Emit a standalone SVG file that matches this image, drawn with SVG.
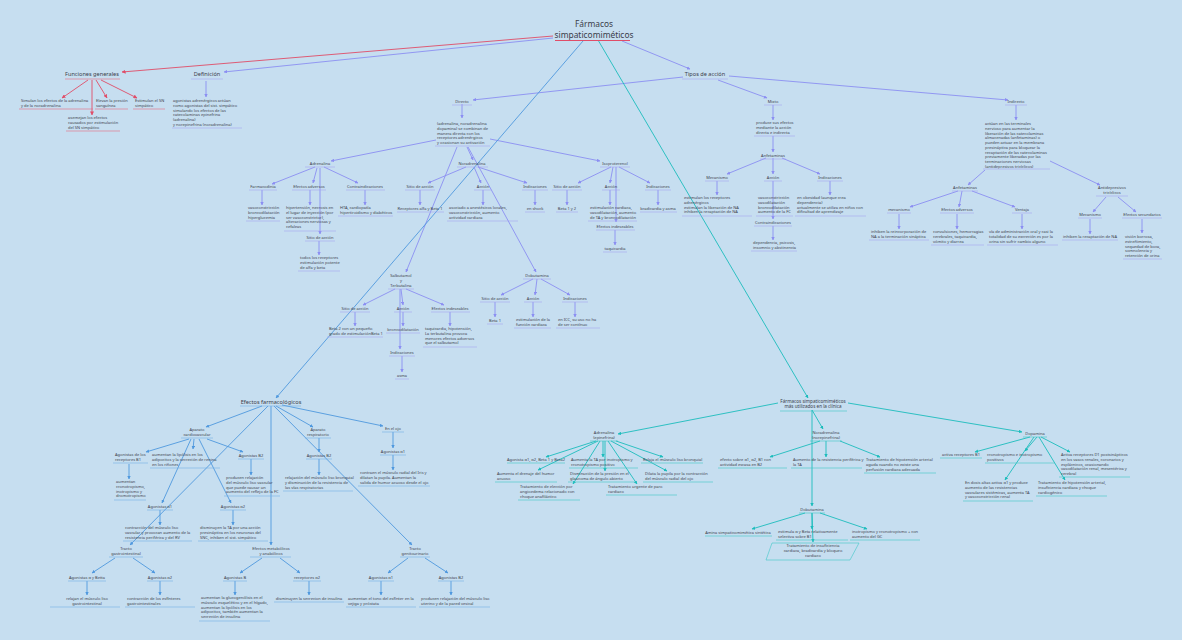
<svg xmlns="http://www.w3.org/2000/svg" width="1182" height="640" viewBox="0 0 1182 640">
<defs>
<style>
text{font-family:"Noto Sans","Liberation Sans",sans-serif;fill:#3b3d4a}
.s{font-size:4px}
.h{font-size:5.6px}
.t{font-size:8.4px}
.c{text-anchor:middle}
.ur,.up,.ub,.ut{stroke-width:.6;fill:none}
.ur{stroke:#e56a82}.up{stroke:#a4a6f2}.ub{stroke:#74aee6}.ut{stroke:#3cc8c8}
.cr,.cp,.cb,.ct{fill:none;stroke-width:.9}
.cr{stroke:#e04d68;marker-end:url(#ar)}
.cp{stroke:#8b8ef2;marker-end:url(#ap)}
.cb{stroke:#4f98de;marker-end:url(#ab)}
.ct{stroke:#1cbcbc;marker-end:url(#at)}
</style>
<marker id="ar" viewBox="0 0 10 10" refX="9" refY="5" markerWidth="4" markerHeight="4" markerUnits="userSpaceOnUse" orient="auto"><path d="M0,0L10,5L0,10z" fill="#e04d68"/></marker>
<marker id="ap" viewBox="0 0 10 10" refX="9" refY="5" markerWidth="3.5" markerHeight="3.5" markerUnits="userSpaceOnUse" orient="auto"><path d="M0,0L10,5L0,10z" fill="#8b8ef2"/></marker>
<marker id="ab" viewBox="0 0 10 10" refX="9" refY="5" markerWidth="3.5" markerHeight="3.5" markerUnits="userSpaceOnUse" orient="auto"><path d="M0,0L10,5L0,10z" fill="#4f98de"/></marker>
<marker id="at" viewBox="0 0 10 10" refX="9" refY="5" markerWidth="3.5" markerHeight="3.5" markerUnits="userSpaceOnUse" orient="auto"><path d="M0,0L10,5L0,10z" fill="#1cbcbc"/></marker>
</defs>
<rect width="1182" height="640" fill="#c6def0"/>

<g id="connectors">
<path class="cr" d="M553,36L122,72"/>
<path class="cr" d="M88,80L62,98"/>
<path class="cr" d="M96,80L107,98"/>
<path class="cr" d="M101,80L137,98"/>
<path class="cr" d="M92,80L92,115"/>
<path class="cp" d="M553,38L224,72"/>
<path class="cp" d="M206,81L206,97"/>
<path class="cp" d="M622,41L690,69"/>
<path class="cp" d="M683,77L473,100"/>
<path class="cp" d="M718,80L767,98"/>
<path class="cp" d="M729,76L1008,100"/>
<path class="cp" d="M462,104L462,118"/>
<path class="cp" d="M436,140L331,161"/>
<path class="cp" d="M467,147L473,160"/>
<path class="cp" d="M490,139L600,161"/>
<path class="cp" d="M457,147L406,272"/>
<path class="cp" d="M468,147L536,272"/>
<path class="cp" d="M315,167L272,184"/>
<path class="cp" d="M317,168L313,183"/>
<path class="cp" d="M320,168L320,234"/>
<path class="cp" d="M324,167L358,183"/>
<path class="cp" d="M262,190L262,205"/>
<path class="cp" d="M310,190L310,205"/>
<path class="cp" d="M365,190L365,205"/>
<path class="cp" d="M319,241L319,255"/>
<path class="cp" d="M466,167L428,183"/>
<path class="cp" d="M474,167L481,183"/>
<path class="cp" d="M478,167L527,183"/>
<path class="cp" d="M420,190L420,205"/>
<path class="cp" d="M483,190L483,205"/>
<path class="cp" d="M535,190L535,205"/>
<path class="cp" d="M611,167L578,183"/>
<path class="cp" d="M613,167L610,183"/>
<path class="cp" d="M616,167L616,222"/>
<path class="cp" d="M619,167L650,183"/>
<path class="cp" d="M567,190L567,205"/>
<path class="cp" d="M610,190L610,205"/>
<path class="cp" d="M658,190L658,205"/>
<path class="cp" d="M615,230L615,245"/>
<path class="cp" d="M395,289L363,305"/>
<path class="cp" d="M401,289L403,305"/>
<path class="cp" d="M406,289L444,305"/>
<path class="cp" d="M400,289L400,349"/>
<path class="cp" d="M355,312L355,326"/>
<path class="cp" d="M403,312L403,326"/>
<path class="cp" d="M450,312L450,326"/>
<path class="cp" d="M402,356L402,372"/>
<path class="cp" d="M533,279L501,295"/>
<path class="cp" d="M537,279L535,295"/>
<path class="cp" d="M541,279L570,295"/>
<path class="cp" d="M495,302L495,317"/>
<path class="cp" d="M533,302L533,317"/>
<path class="cp" d="M575,302L575,317"/>
<path class="cp" d="M773,105L773,120"/>
<path class="cp" d="M773,136L773,152"/>
<path class="cp" d="M766,158L727,174"/>
<path class="cp" d="M773,158L773,174"/>
<path class="cp" d="M782,158L820,174"/>
<path class="cp" d="M717,181L717,195"/>
<path class="cp" d="M773,181L773,219"/>
<path class="cp" d="M830,181L830,195"/>
<path class="cp" d="M773,226L773,240"/>
<path class="cp" d="M1016,105L1016,120"/>
<path class="cp" d="M985,170L968,185"/>
<path class="cp" d="M1050,161L1100,185"/>
<path class="cp" d="M958,191L910,207"/>
<path class="cp" d="M962,191L959,207"/>
<path class="cp" d="M972,191L1015,207"/>
<path class="cp" d="M899,214L899,229"/>
<path class="cp" d="M957,214L957,229"/>
<path class="cp" d="M1022,214L1022,229"/>
<path class="cp" d="M1106,197L1093,212"/>
<path class="cp" d="M1118,197L1136,212"/>
<path class="cp" d="M1090,219L1090,234"/>
<path class="cp" d="M1142,219L1142,233"/>
<path class="cb" d="M583,41L276,398"/>
<path class="cb" d="M262,406L206,427"/>
<path class="cb" d="M268,406L130,545"/>
<path class="cb" d="M271,406L271,545"/>
<path class="cb" d="M276,406L313,427"/>
<path class="cb" d="M282,405L383,426"/>
<path class="cb" d="M274,406L412,545"/>
<path class="cb" d="M189,439L146,452"/>
<path class="cb" d="M191,439L162,503"/>
<path class="cb" d="M194,439L193,449"/>
<path class="cb" d="M199,439L231,503"/>
<path class="cb" d="M207,439L243,452"/>
<path class="cb" d="M129,464L129,479"/>
<path class="cb" d="M251,459L251,475"/>
<path class="cb" d="M160,510L160,525"/>
<path class="cb" d="M233,510L233,525"/>
<path class="cb" d="M115,558L92,573"/>
<path class="cb" d="M133,558L155,573"/>
<path class="cb" d="M87,581L87,595"/>
<path class="cb" d="M160,581L160,595"/>
<path class="cb" d="M262,558L240,573"/>
<path class="cb" d="M280,558L300,573"/>
<path class="cb" d="M235,581L235,595"/>
<path class="cb" d="M309,581L309,595"/>
<path class="cb" d="M319,438L319,452"/>
<path class="cb" d="M319,459L319,475"/>
<path class="cb" d="M393,432L393,448"/>
<path class="cb" d="M393,455L393,470"/>
<path class="cb" d="M408,558L388,573"/>
<path class="cb" d="M425,558L448,573"/>
<path class="cb" d="M381,581L381,595"/>
<path class="cb" d="M451,581L451,595"/>
<path class="ct" d="M598,40L808,398"/>
<path class="ct" d="M778,403L618,434"/>
<path class="ct" d="M812,410L823,429"/>
<path class="ct" d="M848,403L1022,432"/>
<path class="ct" d="M812,410L812,506"/>
<path class="ct" d="M596,441L546,457"/>
<path class="ct" d="M603,441L603,457"/>
<path class="ct" d="M616,441L663,457"/>
<path class="ct" d="M598,441L538,470"/>
<path class="ct" d="M605,441L605,471"/>
<path class="ct" d="M611,441L667,471"/>
<path class="ct" d="M600,441L573,484"/>
<path class="ct" d="M608,441L637,484"/>
<path class="ct" d="M820,441L770,457"/>
<path class="ct" d="M826,441L826,457"/>
<path class="ct" d="M840,441L880,457"/>
<path class="ct" d="M1030,437L975,452"/>
<path class="ct" d="M1037,437L1025,451"/>
<path class="ct" d="M1041,437L1070,452"/>
<path class="ct" d="M1034,437L1005,480"/>
<path class="ct" d="M1039,437L1065,480"/>
<path class="ct" d="M805,513L752,529"/>
<path class="ct" d="M812,513L812,529"/>
<path class="ct" d="M820,513L867,529"/>
<path class="ct" d="M812,513L813,542"/>
</g>

<g id="n-title"><text class="t c" x="594" y="27">Fármacos</text><text class="t c" x="594" y="37.5">simpaticomiméticos</text><line x1="555" y1="40.5" x2="630" y2="40.5" stroke="#e04d68" stroke-width="1"/></g>

<g id="n-fg"><text class="h c" x="92" y="76">Funciones generales</text><line class="ur" x1="65" y1="79" x2="120" y2="79"/></g>
<g id="n-fg1"><text class="s" x="21" y="102">Simulan los efectos de la adrenalina<tspan x="21" dy="4.8">y de la noradrenalina</tspan></text><line class="ur" x1="19" y1="109" x2="93" y2="109"/></g>
<g id="n-fg2"><text class="s" x="96" y="102">Elevan la presión<tspan x="96" dy="4.8">sanguínea</tspan></text><line class="ur" x1="95" y1="109" x2="128" y2="109"/></g>
<g id="n-fg3"><text class="s" x="135" y="102">Estimulan el SN<tspan x="135" dy="4.8">simpático</tspan></text><line class="ur" x1="133" y1="109" x2="165" y2="109"/></g>
<g id="n-fg4"><text class="s" x="68" y="119">asemejan  los efectos<tspan x="68" dy="4.8">causados por estimulación</tspan><tspan x="68" dy="4.8">del SN simpático</tspan></text><line class="ur" x1="66" y1="131" x2="120" y2="131"/></g>

<g id="n-def"><text class="h c" x="207" y="76">Definición</text><line class="up" x1="191" y1="79" x2="223" y2="79"/></g>
<g id="n-def1"><text class="s" x="173" y="102">agonistas adrenérgicos actúan<tspan x="173" dy="4.8">como agonistas del sist. simpático</tspan><tspan x="173" dy="4.8">simulando los efectos de las</tspan><tspan x="173" dy="4.8">catecolaminas epinefrina</tspan><tspan x="173" dy="4.8">(adrenalina)</tspan><tspan x="173" dy="4.8">y norepinefrina (noradrenalina)</tspan></text><line class="up" x1="172" y1="128" x2="242" y2="128"/></g>

<g id="n-tipos"><text class="h c" x="705" y="76">Tipos de acción</text><line class="up" x1="682" y1="79" x2="728" y2="79"/></g>

<g id="n-dir"><text class="s c" x="462" y="103">Directo</text><line class="up" x1="452" y1="105" x2="472" y2="105"/></g>
<g id="n-dir1"><text class="s" x="437" y="125">(adrenalina, noradrenalina<tspan x="437" dy="4.8">dopamina) se combinan de</tspan><tspan x="437" dy="4.8">manera directa con los</tspan><tspan x="437" dy="4.8">receptores adrenérgicos</tspan><tspan x="437" dy="4.8">y ocasionan su activación</tspan></text><line class="up" x1="435" y1="146" x2="490" y2="146"/></g>

<g id="n-adr"><text class="s c" x="320" y="165">Adrenalina</text><line class="up" x1="305" y1="167" x2="335" y2="167"/></g>
<g id="n-adr-f"><text class="s c" x="263" y="188">Farmacodinia</text><line class="up" x1="249" y1="190" x2="277" y2="190"/></g>
<g id="n-adr-e"><text class="s c" x="309" y="188">Efectos adversos</text><line class="up" x1="292" y1="190" x2="326" y2="190"/></g>
<g id="n-adr-c"><text class="s c" x="365" y="188">Contraindicaciones</text><line class="up" x1="346" y1="190" x2="385" y2="190"/></g>
<g id="n-adr-f1"><text class="s" x="248" y="209">vasoconstricción<tspan x="248" dy="4.8">broncodilatación</tspan><tspan x="248" dy="4.8">hiperglucemia</tspan></text><line class="up" x1="246" y1="221" x2="280" y2="221"/></g>
<g id="n-adr-e1"><text class="s" x="286" y="209">hipertensión, necrosis en<tspan x="286" dy="4.8">el lugar de inyección (por</tspan><tspan x="286" dy="4.8">ser vasoconstrictor),</tspan><tspan x="286" dy="4.8">alteraciones nerviosas y</tspan><tspan x="286" dy="4.8">cefaleas</tspan></text><line class="up" x1="284" y1="231" x2="336" y2="231"/></g>
<g id="n-adr-c1"><text class="s" x="340" y="209">HTA, cardiopatía<tspan x="340" dy="4.8">hipertiroidismo y diabéticos</tspan></text><line class="up" x1="338" y1="216" x2="393" y2="216"/></g>
<g id="n-adr-s"><text class="s c" x="320" y="239">Sitio de acción</text><line class="up" x1="305" y1="241" x2="335" y2="241"/></g>
<g id="n-adr-s1"><text class="s" x="300" y="259">todos los receptores<tspan x="300" dy="4.8">estimulación potente</tspan><tspan x="300" dy="4.8">de alfa y beta</tspan></text><line class="up" x1="298" y1="271" x2="340" y2="271"/></g>

<g id="n-nor"><text class="s c" x="472" y="165">Noradrenalina</text><line class="up" x1="457" y1="167" x2="488" y2="167"/></g>
<g id="n-nor-s"><text class="s c" x="420" y="188">Sitio de acción</text><line class="up" x1="405" y1="190" x2="435" y2="190"/></g>
<g id="n-nor-a"><text class="s c" x="483" y="188">Acción</text><line class="up" x1="474" y1="190" x2="492" y2="190"/></g>
<g id="n-nor-i"><text class="s c" x="535" y="188">Indicaciones</text><line class="up" x1="522" y1="190" x2="548" y2="190"/></g>
<g id="n-nor-s1"><text class="s c" x="420" y="210">Receptores alfa y Beta 1</text><line class="up" x1="397" y1="212" x2="444" y2="212"/></g>
<g id="n-nor-a1"><text class="s" x="449" y="209">asociado a anestésicos locales,<tspan x="449" dy="4.8">vasoconstricción, aumento</tspan><tspan x="449" dy="4.8">actividad cardiaca</tspan></text><line class="up" x1="447" y1="221" x2="518" y2="221"/></g>
<g id="n-nor-i1"><text class="s c" x="535" y="210">en shock</text><line class="up" x1="525" y1="212" x2="545" y2="212"/></g>

<g id="n-iso"><text class="s c" x="615" y="165">Isoproterenol</text><line class="up" x1="600" y1="167" x2="630" y2="167"/></g>
<g id="n-iso-s"><text class="s c" x="567" y="188">Sitio de acción</text><line class="up" x1="552" y1="190" x2="582" y2="190"/></g>
<g id="n-iso-a"><text class="s c" x="611" y="188">Acción</text><line class="up" x1="602" y1="190" x2="620" y2="190"/></g>
<g id="n-iso-i"><text class="s c" x="658" y="188">Indicaciones</text><line class="up" x1="645" y1="190" x2="671" y2="190"/></g>
<g id="n-iso-s1"><text class="s c" x="567" y="210">Beta 1 y 2</text><line class="up" x1="556" y1="212" x2="578" y2="212"/></g>
<g id="n-iso-a1"><text class="s" x="590" y="209">estimulación cardiaca,<tspan x="590" dy="4.8">vasodilatación, aumento</tspan><tspan x="590" dy="4.8">de TA y broncodilatación</tspan></text><line class="up" x1="588" y1="221" x2="637" y2="221"/></g>
<g id="n-iso-i1"><text class="s c" x="658" y="210">bradicardia y asma</text><line class="up" x1="640" y1="212" x2="677" y2="212"/></g>
<g id="n-iso-e"><text class="s c" x="615" y="228">Efectos indeseables</text><line class="up" x1="596" y1="230" x2="635" y2="230"/></g>
<g id="n-iso-e1"><text class="s c" x="615" y="250">taquicardia</text><line class="up" x1="603" y1="252" x2="627" y2="252"/></g>

<g id="n-sal"><text class="s c" x="401" y="277">Salbutamol<tspan x="401" dy="4.8">y</tspan><tspan x="401" dy="4.8">Terbutalina</tspan></text><line class="up" x1="388" y1="289" x2="414" y2="289"/></g>
<g id="n-sal-s"><text class="s c" x="355" y="310">Sitio de acción</text><line class="up" x1="340" y1="312" x2="370" y2="312"/></g>
<g id="n-sal-a"><text class="s c" x="403" y="310">Acción</text><line class="up" x1="394" y1="312" x2="412" y2="312"/></g>
<g id="n-sal-e"><text class="s c" x="450" y="310">Efectos indeseables</text><line class="up" x1="431" y1="312" x2="470" y2="312"/></g>
<g id="n-sal-s1"><text class="s" x="329" y="330">Beta 2 con un pequeño<tspan x="329" dy="4.8">grado de estimulaciónBeta 1</tspan></text><line class="up" x1="327" y1="337" x2="383" y2="337"/></g>
<g id="n-sal-a1"><text class="s c" x="403" y="331">broncodilatación</text><line class="up" x1="386" y1="333" x2="420" y2="333"/></g>
<g id="n-sal-e1"><text class="s" x="425" y="330">taquicardia, hipotensión,<tspan x="425" dy="4.8">La terbutalina provoca</tspan><tspan x="425" dy="4.8">menores efectos adversos</tspan><tspan x="425" dy="4.8">que el salbutamol</tspan></text><line class="up" x1="423" y1="347" x2="477" y2="347"/></g>
<g id="n-sal-i"><text class="s c" x="402" y="354">Indicaciones</text><line class="up" x1="389" y1="356" x2="415" y2="356"/></g>
<g id="n-sal-i1"><text class="s c" x="402" y="377">asma</text><line class="up" x1="395" y1="379" x2="409" y2="379"/></g>

<g id="n-dob"><text class="s c" x="537" y="277">Dobutamina</text><line class="up" x1="523" y1="279" x2="551" y2="279"/></g>
<g id="n-dob-s"><text class="s c" x="495" y="300">Sitio de acción</text><line class="up" x1="480" y1="302" x2="510" y2="302"/></g>
<g id="n-dob-a"><text class="s c" x="533" y="300">Acción</text><line class="up" x1="524" y1="302" x2="542" y2="302"/></g>
<g id="n-dob-i"><text class="s c" x="575" y="300">Indicaciones</text><line class="up" x1="562" y1="302" x2="588" y2="302"/></g>
<g id="n-dob-s1"><text class="s c" x="495" y="322">Beta 1</text><line class="up" x1="487" y1="324" x2="503" y2="324"/></g>
<g id="n-dob-a1"><text class="s" x="516" y="321">estimulación de la<tspan x="516" dy="4.8">función cardiaca</tspan></text><line class="up" x1="514" y1="328" x2="551" y2="328"/></g>
<g id="n-dob-i1"><text class="s" x="558" y="321">en ICC, su uso no ha<tspan x="558" dy="4.8">de ser contínuo</tspan></text><line class="up" x1="556" y1="328" x2="600" y2="328"/></g>

<g id="n-mix"><text class="s c" x="773" y="103">Mixto</text><line class="up" x1="764" y1="105" x2="782" y2="105"/></g>
<g id="n-mix1"><text class="s" x="756" y="124">produce sus efectos<tspan x="756" dy="4.8">mediante la acción</tspan><tspan x="756" dy="4.8">directa e indirecta</tspan></text><line class="up" x1="754" y1="136" x2="795" y2="136"/></g>
<g id="n-anf"><text class="s c" x="773" y="157">Anfetaminas</text><line class="up" x1="760" y1="159" x2="786" y2="159"/></g>
<g id="n-anf-m"><text class="s c" x="717" y="179">Mecanismo</text><line class="up" x1="705" y1="181" x2="729" y2="181"/></g>
<g id="n-anf-a"><text class="s c" x="773" y="179">Acción</text><line class="up" x1="764" y1="181" x2="782" y2="181"/></g>
<g id="n-anf-i"><text class="s c" x="830" y="179">Indicaciones</text><line class="up" x1="817" y1="181" x2="843" y2="181"/></g>
<g id="n-anf-m1"><text class="s" x="684" y="199">estimulan los receptores<tspan x="684" dy="4.8">adrenérgicos</tspan><tspan x="684" dy="4.8">estimulan la liberación de NA</tspan><tspan x="684" dy="4.8">inhiben la recaptación de NA</tspan></text><line class="up" x1="682" y1="216" x2="752" y2="216"/></g>
<g id="n-anf-a1"><text class="s" x="758" y="199">vasoconstricción<tspan x="758" dy="4.8">vasodilatación</tspan><tspan x="758" dy="4.8">broncodilatación</tspan><tspan x="758" dy="4.8">aumento de la FC</tspan></text><line class="up" x1="756" y1="216" x2="793" y2="216"/></g>
<g id="n-anf-i1"><text class="s" x="797" y="199">en obesidad (aunque crea<tspan x="797" dy="4.8">dependencia)</tspan><tspan x="797" dy="4.8">actualmente se utiliza en niños con</tspan><tspan x="797" dy="4.8">dificultad de aprendizaje</tspan></text><line class="up" x1="795" y1="216" x2="866" y2="216"/></g>
<g id="n-anf-c"><text class="s c" x="773" y="224">Contraindicaciones</text><line class="up" x1="754" y1="226" x2="792" y2="226"/></g>
<g id="n-anf-c1"><text class="s" x="753" y="244">dependencia, psicosis,<tspan x="753" dy="4.8">insomnio y abstinencia</tspan></text><line class="up" x1="751" y1="251" x2="797" y2="251"/></g>

<g id="n-ind"><text class="s c" x="1016" y="103">Indirecto</text><line class="up" x1="1005" y1="105" x2="1027" y2="105"/></g>
<g id="n-ind1"><text class="s" x="985" y="125">actúan en las terminales<tspan x="985" dy="4.75">nervioso para aumentar la</tspan><tspan x="985" dy="4.75">liberación de las catecolaminas</tspan><tspan x="985" dy="4.75">almacenadas (anfetaminas) o</tspan><tspan x="985" dy="4.75">pueden actuar en la membrana</tspan><tspan x="985" dy="4.75">presináptica para bloquear la</tspan><tspan x="985" dy="4.75">recaptación de las catecolaminas</tspan><tspan x="985" dy="4.75">previamente liberadas por las</tspan><tspan x="985" dy="4.75">terminaciones nerviosas</tspan><tspan x="985" dy="4.75">(antidepresivos tricíclicos)</tspan></text><line class="up" x1="983" y1="169" x2="1050" y2="169"/></g>
<g id="n-ianf"><text class="s c" x="965" y="189">Anfetaminas</text><line class="up" x1="952" y1="191" x2="978" y2="191"/></g>
<g id="n-ianf-m"><text class="s c" x="899" y="211">mecanismo</text><line class="up" x1="887" y1="213" x2="911" y2="213"/></g>
<g id="n-ianf-e"><text class="s c" x="957" y="211">Efectos adversos</text><line class="up" x1="940" y1="213" x2="974" y2="213"/></g>
<g id="n-ianf-v"><text class="s c" x="1022" y="211">Ventaja</text><line class="up" x1="1012" y1="213" x2="1032" y2="213"/></g>
<g id="n-ianf-m1"><text class="s" x="871" y="233">inhiben la reincorporación de<tspan x="871" dy="4.8">NA a la terminación sináptica</tspan></text><line class="up" x1="869" y1="240" x2="929" y2="240"/></g>
<g id="n-ianf-e1"><text class="s" x="933" y="233">convulsiones, hemorragias<tspan x="933" dy="4.8">cerebrales, taquicardia,</tspan><tspan x="933" dy="4.8">vómito y diarrea</tspan></text><line class="up" x1="931" y1="245" x2="984" y2="245"/></g>
<g id="n-ianf-v1"><text class="s" x="989" y="233">vía de administración oral y casi la<tspan x="989" dy="4.8">totalidad de su excreción es por la</tspan><tspan x="989" dy="4.8">orina sin sufrir cambio alguno</tspan></text><line class="up" x1="987" y1="245" x2="1058" y2="245"/></g>
<g id="n-adt"><text class="s c" x="1112" y="189">Antidepresivos<tspan x="1112" dy="4.8">tricíclicos</tspan></text><line class="up" x1="1096" y1="196" x2="1128" y2="196"/></g>
<g id="n-adt-m"><text class="s c" x="1090" y="216">Mecanismo</text><line class="up" x1="1078" y1="218" x2="1102" y2="218"/></g>
<g id="n-adt-e"><text class="s c" x="1142" y="216">Efectos secundarios</text><line class="up" x1="1122" y1="218" x2="1162" y2="218"/></g>
<g id="n-adt-m1"><text class="s c" x="1090" y="238">inhiben la recaptación de NA</text><line class="up" x1="1062" y1="240" x2="1118" y2="240"/></g>
<g id="n-adt-e1"><text class="s" x="1125" y="238">visión borrosa,<tspan x="1125" dy="4.8">estreñimiento,</tspan><tspan x="1125" dy="4.8">sequedad de boca,</tspan><tspan x="1125" dy="4.8">somnolencia y</tspan><tspan x="1125" dy="4.8">retención de orina</tspan></text><line class="up" x1="1123" y1="259" x2="1162" y2="259"/></g>

<g id="n-ef"><text class="h c" x="271" y="404">Efectos farmacológicos</text><line class="ub" x1="240" y1="406" x2="301" y2="406"/></g>
<g id="n-cv"><text class="s c" x="197" y="431">Aparato<tspan x="197" dy="4.8">cardiovascular</tspan></text><line class="ub" x1="181" y1="438" x2="213" y2="438"/></g>
<g id="n-cv-b1"><text class="s" x="115" y="456">Agonistas de los<tspan x="115" dy="4.8">receptores B1</tspan></text><line class="ub" x1="113" y1="463" x2="148" y2="463"/></g>
<g id="n-cv-b1t"><text class="s" x="116" y="483">aumentan<tspan x="116" dy="4.8">cronotropismo,</tspan><tspan x="116" dy="4.8">inotropismo y</tspan><tspan x="116" dy="4.8">dromotropismo</tspan></text><line class="ub" x1="114" y1="500" x2="146" y2="500"/></g>
<g id="n-cv-lip"><text class="s" x="152" y="456">aumentan la lipólisis en los<tspan x="152" dy="4.8">adipocitos y la secreción de renina</tspan><tspan x="152" dy="4.8">en los riñones</tspan></text><line class="ub" x1="150" y1="468" x2="220" y2="468"/></g>
<g id="n-cv-b2"><text class="s c" x="251" y="457">Agonistas B2</text><line class="ub" x1="238" y1="459" x2="264" y2="459"/></g>
<g id="n-cv-b2t"><text class="s" x="226" y="479">producen relajación<tspan x="226" dy="4.8">del músculo liso vascular</tspan><tspan x="226" dy="4.8">que puede causar un</tspan><tspan x="226" dy="4.8">aumento del reflejo de la FC</tspan></text><line class="ub" x1="224" y1="496" x2="280" y2="496"/></g>
<g id="n-cv-a1"><text class="s c" x="160" y="508">Agonistas α1</text><line class="ub" x1="147" y1="510" x2="173" y2="510"/></g>
<g id="n-cv-a1t"><text class="s" x="125" y="529">contracción del músculo liso<tspan x="125" dy="4.8">vascular y provocan aumento de la</tspan><tspan x="125" dy="4.8">resistencia periférica y del RV</tspan></text><line class="ub" x1="123" y1="541" x2="192" y2="541"/></g>
<g id="n-cv-a2"><text class="s c" x="233" y="508">Agonistas α2</text><line class="ub" x1="220" y1="510" x2="246" y2="510"/></g>
<g id="n-cv-a2t"><text class="s" x="200" y="529">disminuyen la TA por una acción<tspan x="200" dy="4.8">presináptica en los neuronas del</tspan><tspan x="200" dy="4.8">SNC, inhiben el sist. simpático</tspan></text><line class="ub" x1="198" y1="541" x2="268" y2="541"/></g>

<g id="n-gi"><text class="s c" x="126" y="550">Tracto<tspan x="126" dy="4.8">gastrointestinal</tspan></text><line class="ub" x1="109" y1="557" x2="143" y2="557"/></g>
<g id="n-gi1"><text class="s c" x="87" y="579">Agonistas α y Betta</text><line class="ub" x1="68" y1="581" x2="106" y2="581"/></g>
<g id="n-gi2"><text class="s c" x="160" y="579">Agonistas α2</text><line class="ub" x1="147" y1="581" x2="173" y2="581"/></g>
<g id="n-gi1t"><text class="s c" x="87" y="600">relajan el músculo liso<tspan x="87" dy="4.8">gastrointestinal</tspan></text><line class="ub" x1="50" y1="607" x2="120" y2="607"/></g>
<g id="n-gi2t"><text class="s" x="127" y="600">contracción de los esfínteres<tspan x="127" dy="4.8">gastrointestinales</tspan></text><line class="ub" x1="125" y1="607" x2="195" y2="607"/></g>

<g id="n-met"><text class="s c" x="271" y="550">Efectos metabólicos<tspan x="271" dy="4.8">y anabólicos</tspan></text><line class="ub" x1="250" y1="557" x2="291" y2="557"/></g>
<g id="n-met1"><text class="s c" x="235" y="579">Agonistas B</text><line class="ub" x1="223" y1="581" x2="247" y2="581"/></g>
<g id="n-met2"><text class="s c" x="307" y="579">receptores α2</text><line class="ub" x1="293" y1="581" x2="321" y2="581"/></g>
<g id="n-met1t"><text class="s" x="201" y="599">aumentan la glucogenólisis en el<tspan x="201" dy="4.8">músculo esquelético y en el hígado,</tspan><tspan x="201" dy="4.8">aumentan la lipólisis en los</tspan><tspan x="201" dy="4.8">adipocitos, también aumentan la</tspan><tspan x="201" dy="4.8">secreción de insulina</tspan></text><line class="ub" x1="199" y1="621" x2="270" y2="621"/></g>
<g id="n-met2t"><text class="s c" x="309" y="600">disminuyen la secrecion de insulina</text><line class="ub" x1="274" y1="602" x2="344" y2="602"/></g>

<g id="n-resp"><text class="s c" x="318" y="431">Aparato<tspan x="318" dy="4.8">respiratorio</tspan></text><line class="ub" x1="305" y1="438" x2="331" y2="438"/></g>
<g id="n-resp1"><text class="s c" x="319" y="457">Agonistas B2</text><line class="ub" x1="306" y1="459" x2="332" y2="459"/></g>
<g id="n-resp1t"><text class="s" x="285" y="479">relajación del músculo liso bronquial<tspan x="285" dy="4.8">y disminución de la resistencia de</tspan><tspan x="285" dy="4.8">las vías respiratorias</tspan></text><line class="ub" x1="283" y1="491" x2="353" y2="491"/></g>

<g id="n-ojo"><text class="s c" x="393" y="430">En el ojo</text><line class="ub" x1="382" y1="432" x2="404" y2="432"/></g>
<g id="n-ojo1"><text class="s c" x="393" y="453">Agonistas α1</text><line class="ub" x1="380" y1="455" x2="406" y2="455"/></g>
<g id="n-ojo1t"><text class="s" x="360" y="474">contraen el músculo radial del Iris y<tspan x="360" dy="4.8">dilatan la pupila. Aumentan la</tspan><tspan x="360" dy="4.8">salida de humor acuoso desde el ojo</tspan></text><line class="ub" x1="358" y1="486" x2="430" y2="486"/></g>

<g id="n-gu"><text class="s c" x="415" y="550">Tracto<tspan x="415" dy="4.8">genitourinario</tspan></text><line class="ub" x1="400" y1="557" x2="430" y2="557"/></g>
<g id="n-gu1"><text class="s c" x="381" y="579">Agonistas α1</text><line class="ub" x1="368" y1="581" x2="394" y2="581"/></g>
<g id="n-gu2"><text class="s c" x="451" y="579">Agonistas B2</text><line class="ub" x1="438" y1="581" x2="464" y2="581"/></g>
<g id="n-gu1t"><text class="s" x="348" y="600">aumentan el tono del esfínter en la<tspan x="348" dy="4.8">vejiga y próstata</tspan></text><line class="ub" x1="346" y1="607" x2="416" y2="607"/></g>
<g id="n-gu2t"><text class="s" x="421" y="600">producen relajación del músculo liso<tspan x="421" dy="4.8">uterino y de la pared vesical</tspan></text><line class="ub" x1="419" y1="607" x2="490" y2="607"/></g>

<g id="n-cli"><text class="s c" x="813" y="403" style="font-size:4.6px">Fármacos simpaticomiméticos<tspan x="813" dy="5.2">más utilizados en la clínica</tspan></text><line class="ut" x1="780" y1="411" x2="847" y2="411"/></g>
<g id="n-ce"><text class="s c" x="604" y="434">Adrenalina<tspan x="604" dy="4.8">(epinefrina)</tspan></text><line class="ut" x1="590" y1="441" x2="618" y2="441"/></g>
<g id="n-ce1"><text class="s c" x="536" y="461">Agonista α1, α2, Beta 1 y Beta2</text><line class="ut" x1="507" y1="463" x2="565" y2="463"/></g>
<g id="n-ce2"><text class="s" x="571" y="461">Aumenta la TA por inotropismo y<tspan x="571" dy="4.8">cronotropismo positivo</tspan></text><line class="ut" x1="569" y1="468" x2="638" y2="468"/></g>
<g id="n-ce3"><text class="s" x="643" y="461">Relaja el músculo liso bronquial</text><line class="ut" x1="641" y1="463" x2="703" y2="463"/></g>
<g id="n-ce4"><text class="s" x="497" y="475">Aumenta el drenaje del humor<tspan x="497" dy="4.8">acuoso</tspan></text><line class="ut" x1="495" y1="482" x2="557" y2="482"/></g>
<g id="n-ce5"><text class="s" x="570" y="475">Disminución de la presión en el<tspan x="570" dy="4.8">glaucoma de ángulo abierto</tspan></text><line class="ut" x1="568" y1="482" x2="635" y2="482"/></g>
<g id="n-ce6"><text class="s" x="645" y="475">Dilata la pupila por la contracción<tspan x="645" dy="4.8">del músculo radial del ojo</tspan></text><line class="ut" x1="643" y1="482" x2="713" y2="482"/></g>
<g id="n-ce7"><text class="s" x="520" y="488">Tratamiento de elección por<tspan x="520" dy="4.8">angioedema relacionado con</tspan><tspan x="520" dy="4.8">choque anafiláctico</tspan></text><line class="ut" x1="518" y1="500" x2="580" y2="500"/></g>
<g id="n-ce8"><text class="s" x="608" y="488">Tratamiento urgente de paro<tspan x="608" dy="4.8">cardiaco</tspan></text><line class="ut" x1="606" y1="495" x2="677" y2="495"/></g>

<g id="n-cn"><text class="s c" x="826" y="434">Noradrenalina<tspan x="826" dy="4.8">(norepinefrina)</tspan></text><line class="ut" x1="810" y1="441" x2="842" y2="441"/></g>
<g id="n-cn1"><text class="s" x="720" y="461">efecto sobre α1, α2, B1 con<tspan x="720" dy="4.8">actividad escasa en B2</tspan></text><line class="ut" x1="718" y1="468" x2="787" y2="468"/></g>
<g id="n-cn2"><text class="s" x="793" y="461">Aumento de la resistencia periférica y<tspan x="793" dy="4.8">la TA</tspan></text><line class="ut" x1="791" y1="468" x2="862" y2="468"/></g>
<g id="n-cn3"><text class="s" x="866" y="461">Tratamiento de hipotensión arterial<tspan x="866" dy="4.8">aguda cuando no existe una</tspan><tspan x="866" dy="4.8">perfusión cardiaca adecuada</tspan></text><line class="ut" x1="864" y1="473" x2="936" y2="473"/></g>

<g id="n-cd"><text class="s c" x="1035" y="435">Dopamina</text><line class="ut" x1="1023" y1="437" x2="1047" y2="437"/></g>
<g id="n-cd1"><text class="s" x="942" y="456">activa receptores B1</text><line class="ut" x1="940" y1="458" x2="982" y2="458"/></g>
<g id="n-cd2"><text class="s" x="987" y="456">cronotropismo e inotropismo<tspan x="987" dy="4.8">positivos</tspan></text><line class="ut" x1="985" y1="463" x2="1055" y2="463"/></g>
<g id="n-cd3"><text class="s" x="1061" y="456">Activa receptores D1 postsinápticos<tspan x="1061" dy="4.8">en los vasos renales, coronarios y</tspan><tspan x="1061" dy="4.8">esplácnicos, ocasionando</tspan><tspan x="1061" dy="4.8">vasodilatación renal, mesentérica y</tspan><tspan x="1061" dy="4.8">cerebral</tspan></text><line class="ut" x1="1059" y1="477" x2="1130" y2="477"/></g>
<g id="n-cd4"><text class="s" x="965" y="484">En dosis altas activa α1 y produce<tspan x="965" dy="4.8">aumento de las resistencias</tspan><tspan x="965" dy="4.8">vasculares sistémicas, aumenta TA</tspan><tspan x="965" dy="4.8">y vasoconstricción renal</tspan></text><line class="ut" x1="963" y1="501" x2="1033" y2="501"/></g>
<g id="n-cd5"><text class="s" x="1038" y="484">Tratamiento de hipotensión arterial,<tspan x="1038" dy="4.8">insuficiencia cardiaca y choque</tspan><tspan x="1038" dy="4.8">cardiogénico</tspan></text><line class="ut" x1="1036" y1="496" x2="1107" y2="496"/></g>

<g id="n-cdb"><text class="s c" x="812" y="511">Dobutamina</text><line class="ut" x1="799" y1="513" x2="825" y2="513"/></g>
<g id="n-cdb1"><text class="s c" x="738" y="534">Amina simpaticomimética sintética</text><line class="ut" x1="705" y1="536" x2="772" y2="536"/></g>
<g id="n-cdb2"><text class="s" x="778" y="533">estimula α y Beta relativamente<tspan x="778" dy="4.8">selectiva sobre B1</tspan></text><line class="ut" x1="776" y1="540" x2="848" y2="540"/></g>
<g id="n-cdb3"><text class="s" x="852" y="533">inotropismo y cronotropismo + con<tspan x="852" dy="4.8">aumento del GC</tspan></text><line class="ut" x1="850" y1="540" x2="920" y2="540"/></g>
<g id="n-cdb4"><path d="M772,543L859,543L850,560L766,560z" fill="none" stroke="#3cc8c8" stroke-width=".6"/><text class="s c" x="813" y="547">Tratamiento de insuficiencia<tspan x="813" dy="4.8">cardiaca, bradicardia y bloqueo</tspan><tspan x="813" dy="4.8">cardiaco</tspan></text></g>
</svg>
